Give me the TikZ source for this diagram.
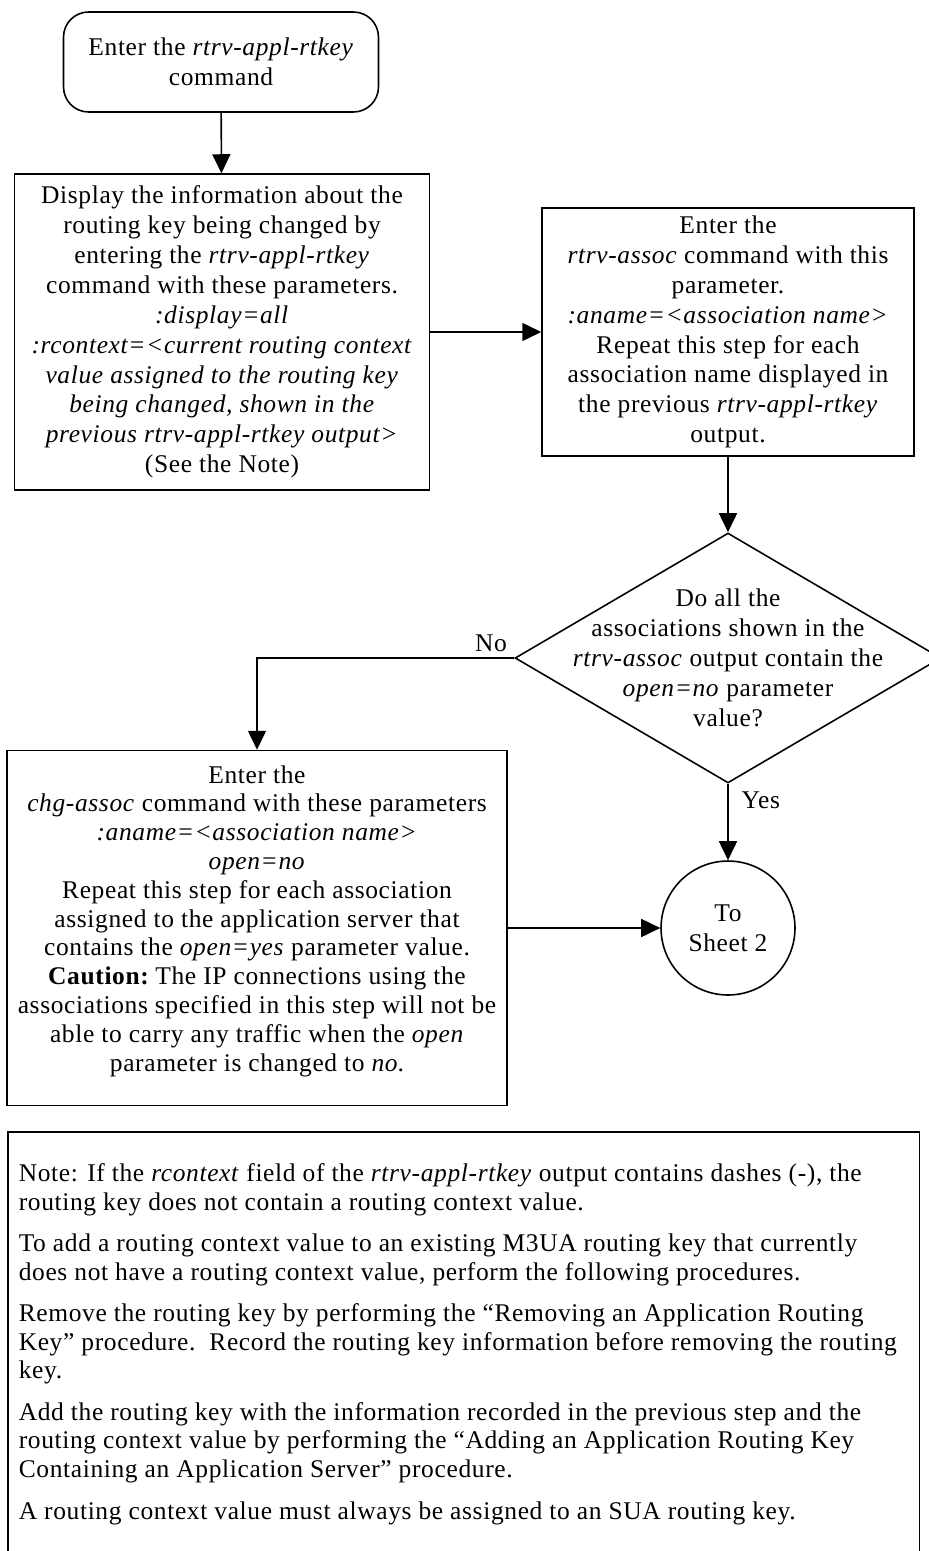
\documentclass[tikz,border=0pt]{standalone}
\usepackage{fontspec}
\setmainfont{Liberation Serif}[LetterSpace=2.5]
\usetikzlibrary{arrows.meta,shapes.geometric}

\begin{document}
\begin{tikzpicture}[x=0.02cm,y=-0.02cm,line width=0.9pt,
  every node/.style={font=\fontsize{14.5}{17}\selectfont},
  >={Triangle[length=0.38cm,width=0.36cm]},
  stepbox/.style={draw,rectangle,align=center,inner sep=0pt},
  startbox/.style={stepbox,rounded corners=0.5cm},
  decision/.style={draw,diamond,inner sep=0pt,minimum width=8.52cm,minimum height=5cm},
  connector/.style={draw,circle,align=center,inner sep=0pt,minimum size=2.68cm}]
\useasboundingbox (0,0) rectangle (929,1551);
% steps
\node[startbox,minimum width=6.3cm,minimum height=2cm] (start) at (221,62)
  {Enter the \textit{rtrv-appl-rtkey}\\command};
\node[stepbox,minimum width=8.3cm,minimum height=6.32cm] (disp) at (222,332)
  {Display the information about the\\routing key being changed by\\entering the \textit{rtrv-appl-rtkey}\\command with these parameters.\\
   \textit{:display=all}\\\textit{:rcontext=<current routing context}\\\textit{value assigned to the routing key}\\
   \textit{being changed, shown in the}\\\textit{previous rtrv-appl-rtkey output>}\\(See the Note)};
\node[stepbox,minimum width=7.44cm,minimum height=4.96cm] (assoc) at (728,332)
  {Enter the\\\textit{rtrv-assoc} command with this\\parameter.\\\textit{:aname=<association name>}\\
   Repeat this step for each\\association name displayed in\\the previous \textit{rtrv-appl-rtkey}\\output.};
\node[decision] (dec) at (728,658) {};
\node[align=center] (dectext) at (dec)
  {Do all the\\associations shown in the\\\textit{rtrv-assoc} output contain the\\\textit{open=no} parameter\\value?};
\node[stepbox,minimum width=10cm,minimum height=7.1cm] (chg) at (257,928) {};
\node[align=center,font=\fontsize{14.5}{16.4}\selectfont] (chgtext) at (257,921)
  {Enter the\\\textit{chg-assoc} command with these parameters\\\textit{:aname=<association name>}\\\textit{open=no}\\
   Repeat this step for each association\\assigned to the application server that\\contains the \textit{open=yes} parameter value.\\
   \textbf{Caution:}\hspace{-2pt} The IP connections using the\\associations specified in this step will not be\\
   able to carry any traffic when the \textit{open}\\parameter is changed to \textit{no}.};
\node[connector] (sheet) at (728,928) {To\\Sheet 2};
% note
\node[draw,rectangle,anchor=north west,minimum width=18.24cm,minimum height=8.9cm] (note) at (7,1131) {};
\node[anchor=north west,align=left,inner sep=0pt,font=\fontsize{14.5}{16.2}\selectfont] (notetext) at (18,1163)
  {Note: If the \textit{rcontext} field of the \textit{rtrv-appl-rtkey} output contains dashes (-), the\\
   routing key does not contain a routing context value.\\[7.5pt]
   To add a routing context value to an existing M3UA routing key that currently\\
   does not have a routing context value, perform the following procedures.\\[7.5pt]
   Remove the routing key by performing the “Removing an Application Routing\\
   Key” procedure.\ \ Record the routing key information before removing the routing\\
   key.\\[7.5pt]
   Add the routing key with the information recorded in the previous step and the\\
   routing context value by performing the “Adding an Application Routing Key\\
   Containing an Application Server” procedure.\\[7.5pt]
   A routing context value must always be assigned to an SUA routing key.};
% connectors
\draw[->] (start) -- (disp);
\draw[->] (disp) -- (assoc);
\draw[->] (assoc) -- (dec);
\draw[->] (dec.west) -| node[pos=0.045,above] {No} (chg.north);
\draw[->] (dec.south) -- node[pos=0.22,right=4pt] {Yes} (sheet);
\draw[->] (chg.east) -- (sheet.west);
\end{tikzpicture}
\end{document}
